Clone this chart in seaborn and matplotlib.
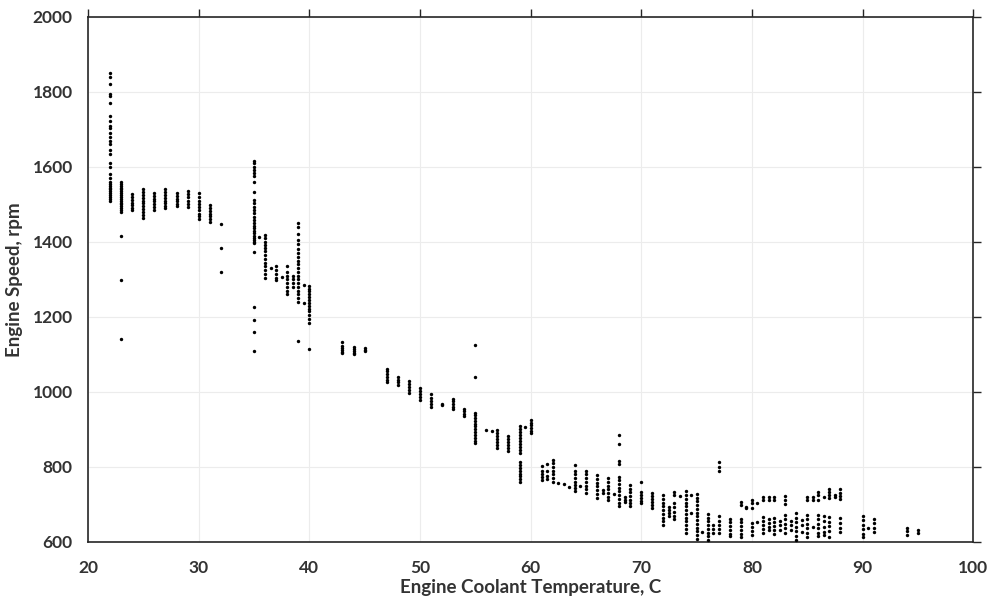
import matplotlib
matplotlib.use("Agg")
import matplotlib.pyplot as plt
import pandas as pd
import seaborn as sns

# Engine speed samples (rpm) grouped by coolant temperature (C), per warm-up phase
cold_temp = [22, 23, 24, 25, 26, 27, 28, 29, 30, 31, 32]
cold_rpm = [
    [1850, 1840, 1820, 1795, 1790, 1770, 1735, 1722, 1710, 1705, 1690, 1680, 1670, 1660,
     1645, 1635, 1610, 1600, 1580, 1570, 1560, 1555, 1550, 1545, 1540, 1535, 1530, 1525,
     1520, 1515, 1510],
    [1560, 1555, 1550, 1545, 1540, 1535, 1530, 1525, 1520, 1515, 1510, 1505, 1500, 1495,
     1490, 1485, 1480, 1415, 1298, 1142],
    [1528, 1520, 1512, 1505, 1498, 1490, 1484],
    [1540, 1532, 1525, 1518, 1510, 1503, 1495, 1488, 1480, 1472, 1463],
    [1530, 1522, 1515, 1508, 1500, 1493, 1486],
    [1540, 1532, 1525, 1518, 1510, 1503, 1496, 1490],
    [1530, 1522, 1515, 1508, 1500, 1496],
    [1535, 1528, 1520, 1510, 1500, 1492],
    [1530, 1520, 1510, 1500, 1492, 1485, 1475, 1468, 1460],
    [1498, 1490, 1482, 1475, 1468, 1460, 1452],
    [1448, 1385, 1321],
]

fast_idle_temp = [35, 35.5, 36, 36.5, 37, 37.5, 38, 38.5, 39, 39.5, 40]
fast_idle_rpm = [
    [1617, 1610, 1601, 1592, 1583, 1576, 1561, 1534, 1512, 1503, 1494, 1485, 1476, 1467,
     1459, 1450, 1443, 1436, 1430, 1423, 1416, 1410, 1405, 1401, 1396, 1372, 1226, 1192,
     1161, 1110],
    [1414],
    [1418, 1410, 1400, 1392, 1385, 1375, 1365, 1355, 1345, 1335, 1325, 1315, 1305],
    [1330],
    [1335, 1325, 1315, 1305, 1298],
    [1306],
    [1335, 1320, 1310, 1300, 1290, 1280, 1270, 1260],
    [1310, 1300, 1290, 1280],
    [1450, 1440, 1420, 1405, 1395, 1380, 1370, 1360, 1350, 1340, 1330, 1320, 1310, 1300,
     1290, 1280, 1270, 1260, 1250, 1240, 1136],
    [1285, 1236],
    [1282, 1275, 1268, 1260, 1252, 1245, 1238, 1230, 1222, 1215, 1205, 1195, 1185, 1114],
]

warm_temp = [43, 44, 45, 47, 48, 49, 50, 51, 52, 53, 54, 55, 56, 56.5, 57, 58, 59, 59.5, 60]
warm_rpm = [
    [1133, 1122, 1117, 1112, 1107, 1103],
    [1120, 1115, 1110, 1105, 1100],
    [1116, 1112, 1108],
    [1062, 1055, 1048, 1040, 1033, 1026],
    [1040, 1033, 1026, 1018],
    [1030, 1022, 1014, 1006, 998],
    [1010, 1002, 995, 987, 978],
    [995, 985, 975, 967, 960],
    [968, 965],
    [982, 975, 968, 961, 955],
    [955, 948, 942, 936],
    [1125, 1041, 945, 938, 930, 922, 915, 908, 900, 893, 885, 878, 870, 863],
    [899],
    [896],
    [898, 890, 882, 874, 866, 858, 850],
    [882, 874, 866, 858, 850, 842],
    [908, 900, 892, 884, 876, 868, 860, 852, 844, 836, 812, 805, 798, 790, 782, 775,
     768, 760],
    [906],
    [925, 918, 911, 904, 897, 890],
]

hot_temp = [61, 61.5, 62, 62.5, 63, 63.5, 64, 64.5, 65, 66, 66.5, 67, 67.5, 68, 68.5,
            69, 70, 71, 72, 72.5, 73, 73.5, 74, 74.5, 75, 75.5]
hot_rpm = [
    [803, 790, 780, 772, 765],
    [808, 790, 775, 768],
    [818, 810, 800, 790, 780, 770, 760],
    [758],
    [755],
    [747],
    [805, 790, 780, 770, 760, 752, 745, 737],
    [750],
    [790, 780, 770, 760, 750, 740, 730],
    [778, 768, 758, 748, 738, 728, 718],
    [739, 730],
    [770, 760, 750, 740, 730, 720, 712],
    [727],
    [884, 862, 816, 808, 774, 765, 755, 745, 735, 725, 715, 705, 697],
    [720, 713, 707],
    [752, 742, 732, 722, 712, 703, 697],
    [761, 733, 725, 717, 710, 703],
    [730, 722, 714, 706, 698, 690],
    [725, 715, 705, 695, 685, 675, 665, 655, 645],
    [694, 685, 676, 668],
    [733, 724, 703, 692, 680, 670, 660],
    [723],
    [736, 725, 715, 705, 695, 685, 675, 665, 655, 645, 635, 625],
    [725, 677],
    [728, 718, 708, 698, 688, 678, 668, 658, 648, 638, 628, 618, 608],
    [627],
]

idle_temp = [76, 76.5, 77, 78, 79, 79.5, 80, 80.5, 81, 81.5, 82, 82.5, 83, 83.5, 84,
             84.5, 85, 85.5, 86, 86.5, 87, 87.5, 88, 90, 90.5, 91, 94, 95]
idle_rpm = [
    [675, 665, 655, 645, 635, 625, 615, 605],
    [645, 635, 625],
    [814, 800, 790, 668, 655, 645, 635, 625],
    [662, 652, 642, 632, 622, 616],
    [706, 698, 662, 652, 642, 632, 622, 613],
    [694, 691],
    [712, 704, 690, 650, 640, 630, 618],
    [703, 652],
    [721, 712, 667, 655, 645, 635, 625],
    [721, 712, 660, 650, 640, 632],
    [721, 712, 663, 652, 642, 632, 620],
    [657, 645, 632],
    [723, 712, 700, 672, 660, 648, 636, 624],
    [657, 645, 632],
    [677, 665, 653, 641, 629, 617, 606],
    [659, 645, 627],
    [721, 712, 672, 660, 648, 636, 624, 612],
    [721, 712, 641],
    [734, 724, 712, 672, 660, 648, 636, 624, 615],
    [721, 669, 655, 640, 627, 619],
    [742, 733, 724, 716, 666, 654, 642, 630, 614],
    [726, 721],
    [740, 730, 722, 714, 663, 650, 638, 627],
    [670, 658, 646, 634, 622, 612],
    [636],
    [662, 650, 638, 626],
    [638, 628, 618],
    [632, 623],
]

x_ticks = [20, 30, 40, 50, 60, 70, 80, 90, 100]
y_ticks = [600, 800, 1000, 1200, 1400, 1600, 1800, 2000]

rows = []
for temps, speeds in [(cold_temp, cold_rpm), (fast_idle_temp, fast_idle_rpm),
                      (warm_temp, warm_rpm), (hot_temp, hot_rpm), (idle_temp, idle_rpm)]:
    for t, col in zip(temps, speeds):
        for s in col:
            rows.append((t, s))
df = pd.DataFrame(rows, columns=["coolant", "speed"])

sns.set_style("white")
plt.rcParams["font.family"] = ["Lato", "DejaVu Sans"]

fig = plt.figure(figsize=(9.93, 6.02), dpi=100)
ax = fig.add_axes([0.0886, 0.0997, 0.8915, 0.8721])

sns.scatterplot(data=df, x="coolant", y="speed", ax=ax, color="black",
                s=6, marker="o", linewidth=0, legend=False, zorder=3)

ax.set_xlim(20, 100)
ax.set_ylim(600, 2000)
ax.set_xticks(x_ticks)
ax.set_yticks(y_ticks)
ax.grid(True, color="#ececec", linewidth=0.8, zorder=0)
ax.set_axisbelow(True)

for sp in ax.spines.values():
    sp.set_color("#262626")
    sp.set_linewidth(1.2)
    sp.set_visible(True)

ax.tick_params(axis="both", which="major", direction="out", length=6, width=1.0,
               color="#262626", labelsize=12.5, labelcolor="#333333",
               top=True, right=True, labeltop=False, labelright=False, pad=5)
ax.tick_params(axis="x", pad=7)
for lab in ax.get_xticklabels() + ax.get_yticklabels():
    lab.set_fontweight("bold")

ax.set_xlabel("Engine Coolant Temperature, C", fontsize=13.5, fontweight="bold",
              color="#333333", labelpad=2)
ax.set_ylabel("Engine Speed, rpm", fontsize=13.5, fontweight="bold",
              color="#333333", labelpad=7)

fig.savefig("out.png", dpi=100)
